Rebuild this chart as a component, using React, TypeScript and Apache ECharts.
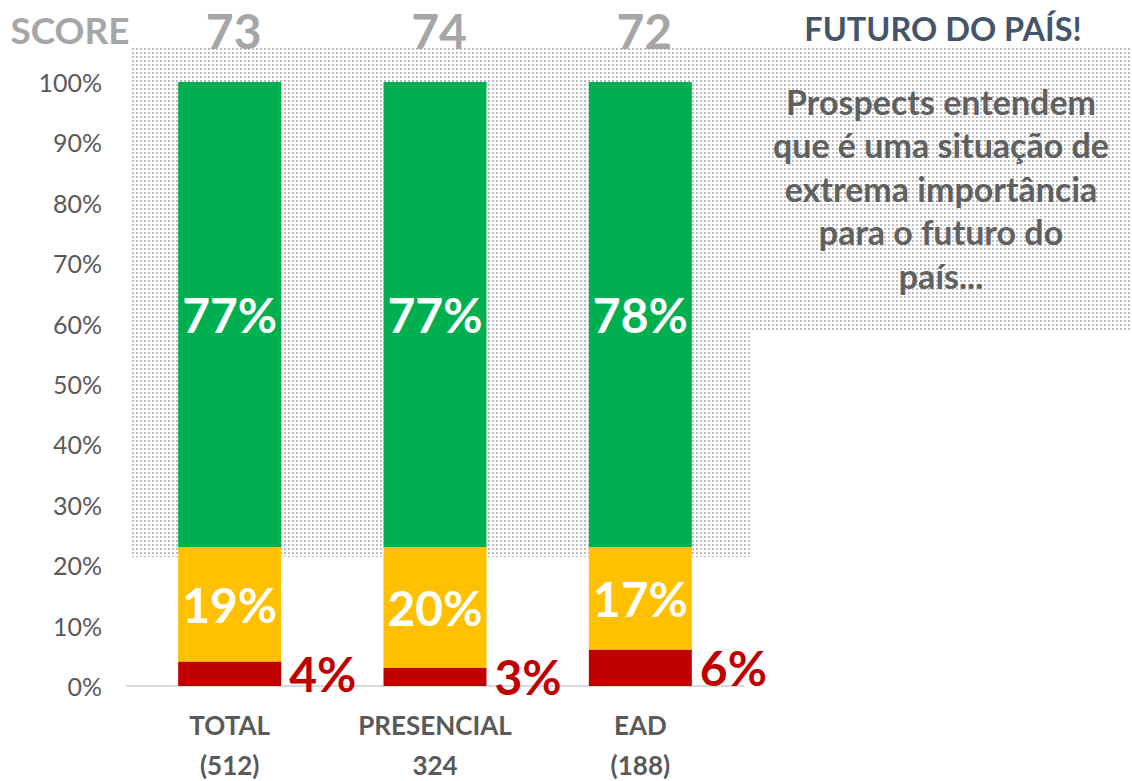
import React, { useEffect, useRef } from "react";
import * as echarts from "echarts";

const categories = ["TOTAL\n(512)", "PRESENCIAL\n324", "EAD\n(188)"];
const scores = ["73", "74", "72"];
const redValues = [4, 3, 6];
const yellowValues = [19, 20, 17];
const greenValues = [77, 77, 78];
const yTicks = [0, 10, 20, 30, 40, 50, 60, 70, 80, 90, 100];
const titleText = "FUTURO DO PAÍS!";
const noteLines = [
  "Prospects entendem",
  "que é uma situação de",
  "extrema importância",
  "para o futuro do",
  "país...",
];

const FONT = "Lato, 'Open Sans', sans-serif";

function makeDots(): string {
  const c = document.createElement("canvas");
  c.width = 4;
  c.height = 4;
  const ctx = c.getContext("2d")!;
  ctx.fillStyle = "#ffffff";
  ctx.fillRect(0, 0, 4, 4);
  ctx.fillStyle = "#bdbdbd";
  ctx.fillRect(0, 0, 2, 2);
  return c.toDataURL();
}

export default function App() {
  const ref = useRef<HTMLDivElement>(null);
  useEffect(() => {
    document.body.style.margin = "0";
    const chart = echarts.init(ref.current!, undefined, { renderer: "svg" });
    const dots = makeDots();
    const pattern: any = { image: dots, repeat: "repeat" };
    const bigLabel = {
      show: true,
      color: "#ffffff",
      fontSize: 48,
      fontWeight: "bold",
      fontFamily: FONT,
      formatter: "{c}%",
    };
    chart.setOption({
      animation: false,
      grid: {
        left: 127,
        right: 389,
        top: 82,
        bottom: 95,
        containLabel: false,
        outerBoundsMode: "none",
      },
      xAxis: {
        type: "category",
        data: categories,
        axisTick: { show: false },
        axisLine: { lineStyle: { color: "#d9d9d9", width: 2 } },
        axisLabel: {
          color: "#595959",
          fontSize: 26,
          fontWeight: "bold",
          fontFamily: FONT,
          lineHeight: 40,
          margin: 19,
        },
      },
      yAxis: {
        type: "value",
        min: 0,
        max: 100,
        interval: 10,
        splitLine: { show: false },
        axisLine: { show: false },
        axisTick: { show: false },
        axisLabel: {
          color: "#595959",
          fontSize: 25,
          fontFamily: FONT,
          margin: 25,
          formatter: (v: number) => (yTicks.includes(v) ? v + "%" : ""),
        },
      },
      series: [
        {
          name: "red",
          type: "bar",
          stack: "s",
          barWidth: 103,
          data: redValues,
          itemStyle: { color: "#c00000" },
          label: {
            show: true,
            position: "right",
            distance: 8,
            color: "#c00000",
            fontSize: 48,
            fontWeight: "bold",
            fontFamily: FONT,
            formatter: "{c}%",
          },
          z: 3,
        },
        {
          name: "yellow",
          type: "bar",
          stack: "s",
          data: yellowValues,
          itemStyle: { color: "#ffc000" },
          label: { ...bigLabel, position: "inside" },
        },
        {
          name: "green",
          type: "bar",
          stack: "s",
          data: greenValues,
          itemStyle: { color: "#00b050" },
          label: { ...bigLabel, position: "inside" },
        },
      ],
    });

    const scoreTexts = scores.map((s, i) => {
      const p = chart.convertToPixel({ xAxisIndex: 0 }, i) as number;
      return {
        type: "text",
        x: p + 4,
        y: 30,
        style: {
          text: s,
          fill: "#a6a6a6",
          fontSize: 48,
          fontWeight: "bold",
          fontFamily: FONT,
          align: "center",
          verticalAlign: "middle",
        },
        z: 10,
      };
    });

    chart.setOption({
      graphic: [
        {
          type: "polygon",
          shape: {
            points: [
              [130, 46],
              [1132, 46],
              [1132, 330],
              [750, 330],
              [750, 557],
              [130, 557],
            ],
          },
          style: { fill: pattern },
          z: -10,
          silent: true,
        },
        {
          type: "text",
          x: 70,
          y: 29,
          style: {
            text: "SCORE",
            fill: "#a6a6a6",
            fontSize: 37,
            fontWeight: "bold",
            fontFamily: FONT,
            align: "center",
            verticalAlign: "middle",
          },
        },
        ...scoreTexts,
        {
          type: "text",
          x: 943,
          y: 28,
          style: {
            text: titleText,
            fill: "#44546a",
            fontSize: 32.5,
            fontWeight: "bold",
            fontFamily: FONT,
            align: "center",
            verticalAlign: "middle",
          },
        },
        {
          type: "text",
          x: 941,
          y: 188,
          style: {
            text: noteLines.join("\n"),
            fill: "#606060",
            fontSize: 34,
            lineHeight: 43.5,
            fontWeight: "bold",
            fontFamily: FONT,
            align: "center",
            verticalAlign: "middle",
          },
        },
      ],
    });
    return () => chart.dispose();
  }, []);
  return <div ref={ref} style={{ width: 1132, height: 781 }} />;
}
